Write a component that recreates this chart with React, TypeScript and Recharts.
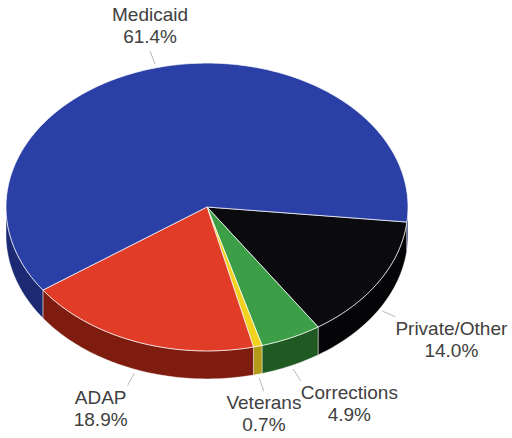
import React from 'react';
import { PieChart, Pie, Cell } from 'recharts';

const CATEGORIES = ['Private/Other', 'Corrections', 'Veterans', 'ADAP', 'Medicaid'];
const SHARES = [14.0, 4.9, 0.7, 18.9, 61.4];
const TOP_COLORS = ['#0b0b0f', '#3c9e46', '#f2d21e', '#e03c28', '#2b40a6'];
const SIDE_COLORS = ['#050507', '#1f5a22', '#b39b18', '#7e1c10', '#1b2a72'];

const RAD = Math.PI / 180;
const TILT = 0.716; // vertical squash of the pie
const DEPTH = 28;
const FONT = "'Liberation Sans', Arial, sans-serif";
const FONT_SIZE = 19;

const table = CATEGORIES.map((name, i) => ({
    name,
    value: SHARES[i],
    side: SIDE_COLORS[i],
}));

let measureCtx: CanvasRenderingContext2D | null = null;
const textWidth = (t: string) => {
    if (!measureCtx) measureCtx = document.createElement('canvas').getContext('2d');
    if (!measureCtx) return t.length * FONT_SIZE * 0.5;
    measureCtx.font = `${FONT_SIZE}px ${FONT}`;
    return measureCtx.measureText(t).width;
};

const pt = (cx: number, cy: number, r: number, deg: number) => [
    cx + r * Math.cos(deg * RAD),
    cy - r * TILT * Math.sin(deg * RAD),
];

const arcPoints = (cx: number, cy: number, r: number, from: number, to: number, dy = 0) => {
    const n = Math.max(2, Math.ceil(Math.abs(to - from)));
    const out: string[] = [];
    for (let i = 0; i <= n; i++) {
        const a = from + ((to - from) * i) / n;
        const [x, y] = pt(cx, cy, r, a);
        out.push(`${x.toFixed(2)},${(y + dy).toFixed(2)}`);
    }
    return out;
};

const Slice3D = (props: any) => {
    const { cx, cy, outerRadius, startAngle, endAngle, fill } = props;
    const side = props.side ?? props.payload?.side ?? fill;
    const lo = Math.min(startAngle, endAngle);
    const hi = Math.max(startAngle, endAngle);

    // visible side wall: parts of the arc on the front half (sin < 0)
    const walls: React.ReactNode[] = [];
    for (let k = -2; k <= 1; k++) {
        const a0 = Math.max(lo, -180 + 360 * k);
        const a1 = Math.min(hi, 360 * k);
        if (a1 > a0) {
            const topArc = arcPoints(cx, cy, outerRadius, a0, a1);
            const botArc = arcPoints(cx, cy, outerRadius, a1, a0, DEPTH);
            walls.push(
                <polygon
                    key={k}
                    points={[...topArc, ...botArc].join(' ')}
                    fill={side}
                    stroke="rgba(255,255,255,0.55)"
                    strokeWidth={0.8}
                />
            );
        }
    }

    const topArc = arcPoints(cx, cy, outerRadius, startAngle, endAngle);
    const d = `M${cx},${cy} L${topArc.join(' L')} Z`;

    return (
        <g>
            {walls}
            <path d={d} fill={fill} stroke="rgba(255,255,255,0.7)" strokeWidth={1} />
        </g>
    );
};

const renderLabel = (p: any) => {
    const { cx, cy, outerRadius, midAngle, name, value } = p;
    const c = Math.cos(midAngle * RAD);
    const s = Math.sin(midAngle * RAD);
    const front = s < 0;
    const [rx, ry0] = pt(cx, cy, outerRadius, midAngle);
    const ry = ry0 + (front ? DEPTH : 0);
    let dx = c;
    let dy = -s * TILT;
    const len = Math.hypot(dx, dy);
    dx /= len;
    dy /= len;
    const ex = rx + dx * 18;
    const ey = ry + dy * 18;
    const pct = `${value.toFixed(1)}%`;
    const w = Math.max(textWidth(name), textWidth(pct));
    const mid = c > 0.35 ? ex + w / 2 : c < -0.35 ? ex - w / 2 : ex;
    const base = front ? ey + 18 : ey - 30;
    return (
        <g>
            <line x1={rx + dx * 4} y1={ry + dy * 4} x2={ex} y2={ey} stroke="#b8b8b8" strokeWidth={1} />
            <text x={mid} y={base} textAnchor="middle" fill="#404040" fontSize={FONT_SIZE} fontFamily={FONT}>
                <tspan x={mid} dy={0}>{name}</tspan>
                <tspan x={mid} dy={22}>{pct}</tspan>
            </text>
        </g>
    );
};

const App: React.FC = () => {
    return (
        <div style={{ position: 'absolute', left: 0, top: 0, width: 512, height: 438, background: '#fff' }}>
            <PieChart width={512} height={438} margin={{ top: 0, right: 0, bottom: 0, left: 0 }}>
                <Pie
                    data={table}
                    dataKey="value"
                    nameKey="name"
                    cx={207}
                    cy={207}
                    outerRadius={201}
                    startAngle={-6}
                    endAngle={-366}
                    stroke="none"
                    shape={Slice3D}
                    label={renderLabel}
                    labelLine={false}
                    isAnimationActive={false}
                >
                    {table.map((row, i) => (
                        <Cell key={row.name} fill={TOP_COLORS[i]} />
                    ))}
                </Pie>
            </PieChart>
        </div>
    );
};

export default App;
